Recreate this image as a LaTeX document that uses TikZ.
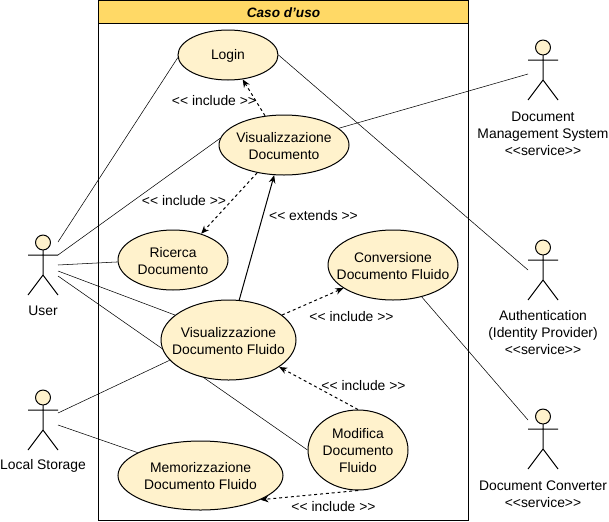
\documentclass[tikz,border=0pt]{standalone}
\usepackage{fontspec}
\setmainfont{Liberation Sans}
\usetikzlibrary{positioning,shapes.geometric,arrows.meta,backgrounds}
\definecolor{headfill}{HTML}{FFD966}
\definecolor{casefill}{HTML}{FFF2CC}
\tikzset{
  usecase/.style={ellipse,draw,fill=casefill,inner sep=0},
  casename/.style={align=center,inner sep=0,yshift=-0.75pt,font=\fontsize{10.4}{12.75}\selectfont},
  actorbox/.style={inner sep=0,minimum width=22.5pt,minimum height=45pt},
  actorname/.style={align=center,inner sep=0,yshift=-0.75pt,font=\fontsize{10.4}{12.75}\selectfont},
  rellabel/.style={inner sep=0,yshift=-0.5pt,font=\fontsize{10.4}{12.75}\selectfont},
  dep/.style={dash pattern=on 2.2pt off 2.2pt,-{Stealth[length=6pt,width=5pt]}},
  pics/actor/.style={code={
    \node[actorbox] (-box) at (0,0) {};
    \draw[fill=casefill] (0,-22.5) circle[radius=5.6pt];
    \draw (0,-15)--(0,10) (-15,-10)--(15,-10) (-15,30)--(0,10)--(15,30);
  }}
}
\begin{document}
\begin{tikzpicture}[x=0.75pt,y=-0.75pt,line width=0.75pt]
\useasboundingbox (0,0) rectangle (609,521);
\draw (98.5,0.5) rectangle (468.5,520.5);
\draw[fill=headfill] (98.5,0.5) rectangle (468.5,23.5);
\node[rellabel,font=\fontsize{10.2}{12}\selectfont\bfseries\itshape] (title) at (283.5,12) {Caso d'uso};
% use cases
\node[usecase,minimum width=75pt,minimum height=37.5pt,label={[casename]center:Login}] (login) at (228,55) {};
\node[usecase,minimum width=97.5pt,minimum height=45pt,label={[casename]center:Visualizzazione\\Documento}] (view) at (284,145) {};
\node[usecase,minimum width=82.5pt,minimum height=45pt,label={[casename]center:Ricerca\\Documento}] (search) at (173,260) {};
\node[usecase,minimum width=97.5pt,minimum height=52.5pt,label={[casename]center:Conversione\\Documento Fluido}] (convert) at (393,265) {};
\node[usecase,minimum width=101.25pt,minimum height=60pt,label={[casename]center:Visualizzazione\\Documento Fluido}] (fluid) at (228.5,340) {};
\node[usecase,minimum width=75pt,minimum height=60pt,label={[casename]center:Modifica\\Documento\\Fluido}] (edit) at (358,450) {};
\node[usecase,minimum width=123.75pt,minimum height=51.75pt,label={[casename]center:Memorizzazione\\Documento Fluido}] (store) at (200.5,475.5) {};
% actors
\pic (user) at (43,265) {actor};
\pic (local) at (43,420) {actor};
\pic (dms) at (543,70) {actor};
\pic (auth) at (543,270) {actor};
\pic (conv) at (543,439) {actor};
\node[actorname] (username) at (43,310) {User};
\node[actorname] (localname) at (43,465) {Local Storage};
\node[actorname] (dmsname) at (543,132.5) {Document\\Management System\\<{}<service>{}>};
\node[actorname] (authname) at (543,332) {Authentication\\(Identity Provider)\\<{}<service>{}>};
\node[actorname] (convname) at (543,493) {Document Converter\\<{}<service>{}>};
\foreach \n/\y in {a/242,b/255,c/265,d/271,e/276} \coordinate (user \n) at (58,\y);
\foreach \n/\y in {a/413,b/425} \coordinate (local \n) at (58,\y);
\coordinate (dms a) at (528,74);
\coordinate (auth a) at (528,270);
\coordinate (conv a) at (528,420);
% connectors
\begin{scope}[on background layer]
\draw (user a)--(login.183);
\draw (user b)--(view.174);
\draw (user c)--(search.182);
\draw (user d)--(fluid.155);
\draw (user e)--(edit.west);
\draw (local a)--(fluid.199);
\draw (local b)--(store.160);
\draw (dms a)--(view.17);
\draw (auth a)--(login.east);
\draw (conv a)--(convert.312);
\end{scope}
\draw[dep] (view.123)--(login.301);
\draw[dep] (view.226)--(search.43);
\draw[-{Stealth[length=6pt,width=5pt]}] (fluid.75)--(view.252);
\draw[dep] (fluid.25)--(convert.205);
\draw[dep] (edit.north)--(fluid.332);
\draw[dep] (edit.south)--(store.338);
% labels
\node[rellabel] (inc login) at (214,100) {<{}< include >{}>};
\node[rellabel] (inc search) at (184,200) {<{}< include >{}>};
\node[rellabel] (ext view) at (313.5,215) {<{}< extends >{}>};
\node[rellabel] (inc convert) at (351.5,315.5) {<{}< include >{}>};
\node[rellabel] (inc fluid) at (363.5,385) {<{}< include >{}>};
\node[rellabel] (inc store) at (333.5,505.5) {<{}< include >{}>};
\end{tikzpicture}
\end{document}
